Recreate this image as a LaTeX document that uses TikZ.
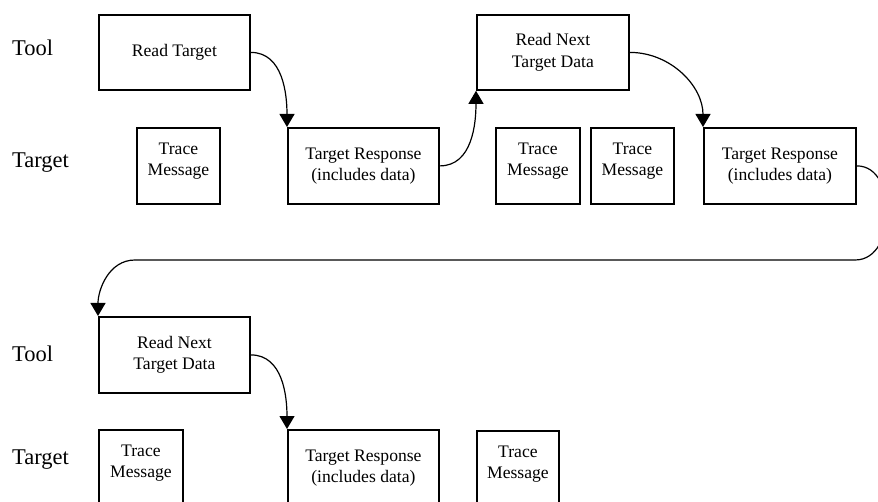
\documentclass[tikz,border=0pt]{standalone}
\usepackage{fontspec}
\setmainfont{Liberation Serif}
\usetikzlibrary{arrows.meta}
\begin{document}
\begin{tikzpicture}[x=1pt,y=1pt,
  box/.style={draw, line width=1.8pt, inner sep=0pt, anchor=north west,
    align=center, font=\fontsize{17.6}{21.5}\selectfont},
  boxtext/.style={inner sep=0pt, align=center, font=\fontsize{17.6}{20.5}\selectfont},
  lane/.style={inner sep=0pt, anchor=base west, font=\fontsize{22.5}{27}\selectfont},
  link/.style={line width=1.2pt, -{Triangle[length=13pt,width=15pt]}},
]
\useasboundingbox (0,0) rectangle (878,-502);
\clip (0,0) rectangle (878,-502);

% lane labels
\node[lane] (tool1) at (12,-55.5) {Tool};
\node[lane] (tgt1)  at (12,-168) {Target};
\node[lane] (tool2) at (12,-361.5) {Tool};
\node[lane] (tgt2)  at (12,-464) {Target};

% first sequence
\node[box, minimum width=151, minimum height=75] (rt)  at (98,-14)  {Read Target};
\node[box, minimum width=83,  minimum height=76] (tm1) at (136,-127) {};
\node[box, minimum width=151, minimum height=76] (tr1) at (287,-127) {Target Response\\(includes data)};
\node[box, minimum width=152, minimum height=75] (rn1) at (476,-14)  {Read Next\\Target Data};
\node[box, minimum width=84,  minimum height=76] (tm2) at (495,-127) {};
\node[box, minimum width=83,  minimum height=76] (tm3) at (590,-127) {};
\node[box, minimum width=152, minimum height=76] (tr2) at (703,-127) {Target Response\\(includes data)};

% second sequence
\node[box, minimum width=151, minimum height=76] (rn2) at (98,-316)  {Read Next\\Target Data};
\node[box, minimum width=84,  minimum height=76] (tm4) at (98,-429)  {};
\node[box, minimum width=151, minimum height=76] (tr3) at (287,-429) {Target Response\\(includes data)};
\node[box, minimum width=82,  minimum height=76] (tm5) at (476,-430) {};

% trace message texts sit a little above the box centre
\foreach \t in {tm1,tm2,tm3,tm4,tm5}
  \node[boxtext] (\t txt) at ([yshift=5pt]\t.center) {Trace\\Message};

% connectors
\draw[link] (rt.east) to[out=0,in=90] (tr1.north west);
\draw[link] (tr1.east) to[out=0,in=-90] (rn1.south west);
\draw[link] (rn1.east) to[out=0,in=90] (tr2.north west);
\coordinate (wrapR) at (887,-212);
\coordinate (wrapB) at (855,-260);
\coordinate (wrapL) at (135,-260);
\draw[link] (tr2.east) to[out=0,in=90] (wrapR) to[out=-90,in=0] (wrapB)
  -- (wrapL) to[out=180,in=90] (rn2.north west);
\draw[link] (rn2.east) to[out=0,in=90] (tr3.north west);
\end{tikzpicture}
\end{document}
